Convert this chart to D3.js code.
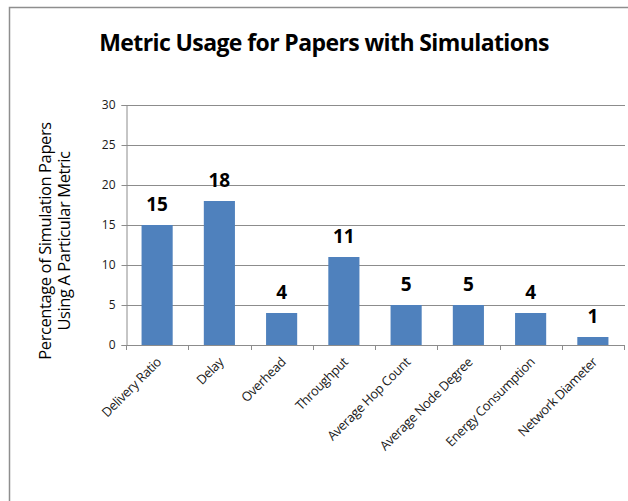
<!DOCTYPE html>
<html>
<head>
<meta charset="utf-8">
<script src="https://cdn.jsdelivr.net/npm/d3@7"></script>
<style>
  html, body { margin: 0; padding: 0; background: #fff; }
  svg { display: block; }
</style>
</head>
<body>
<svg id="chart" width="628" height="501"></svg>
<script>
// Metric usage data (percent of simulation papers)
const categories = ["Delivery Ratio", "Delay", "Overhead", "Throughput",
  "Average Hop Count", "Average Node Degree", "Energy Consumption", "Network Diameter"];
const values = [15, 18, 4, 11, 5, 5, 4, 1];
const yTicks = [0, 5, 10, 15, 20, 25, 30];

const titleText = "Metric Usage for Papers with Simulations";
const yTitleLines = ["Percentage of Simulation Papers", "Using A Particular Metric"];

const svg = d3.select("#chart");
const plot = { left: 126, right: 624, top: 105, bottom: 345 };

// Chart frame
svg.append("rect")
  .attr("x", 9.5).attr("y", 7.5)
  .attr("width", 640).attr("height", 520)
  .attr("fill", "#fff")
  .attr("stroke", "#8e8e8e").attr("stroke-width", 1.5);

const x = d3.scaleBand().domain(categories)
  .range([plot.left, plot.right]).paddingInner(0.5).paddingOuter(0.25);
const y = d3.scaleLinear().domain([0, 30]).range([plot.bottom, plot.top]);

// Horizontal gridlines
svg.append("g").selectAll("line").data(yTicks.filter(d => d > 0)).join("line")
  .attr("x1", plot.left).attr("x2", plot.right + 1)
  .attr("y1", d => Math.round(y(d)) + 0.5).attr("y2", d => Math.round(y(d)) + 0.5)
  .attr("stroke", "#8c8c8c").attr("stroke-width", 1);

// Y axis
const yAxis = svg.append("g")
  .attr("transform", `translate(${plot.left + 0.5},0)`)
  .call(d3.axisLeft(y).tickValues(yTicks).tickSize(5).tickPadding(6));
yAxis.select(".domain").attr("stroke", "#8c8c8c");
yAxis.selectAll(".tick line").attr("stroke", "#8c8c8c");
yAxis.selectAll(".tick text")
  .attr("font-family", "'Open Sans', sans-serif").attr("font-size", 12)
  .attr("fill", "#1a1a1a");

// Bars
svg.append("g").selectAll("rect").data(values).join("rect")
  .attr("x", (d, i) => x(categories[i]))
  .attr("y", d => y(d))
  .attr("width", x.bandwidth())
  .attr("height", d => y(0) - y(d))
  .attr("fill", "#4f81bd");

// X axis: ticks at category boundaries
const boundaries = d3.range(categories.length + 1).map(i => plot.left + i * (plot.right - plot.left) / categories.length);
const xg = svg.append("g");
xg.append("line")
  .attr("x1", plot.left).attr("x2", plot.right + 1)
  .attr("y1", plot.bottom + 0.5).attr("y2", plot.bottom + 0.5)
  .attr("stroke", "#8c8c8c");
xg.selectAll("line.tk").data(boundaries).join("line").attr("class", "tk")
  .attr("x1", d => Math.round(d) + 0.5).attr("x2", d => Math.round(d) + 0.5)
  .attr("y1", plot.bottom).attr("y2", plot.bottom + 5)
  .attr("stroke", "#8c8c8c");

// Rotated category labels
xg.selectAll("text").data(categories).join("text")
  .attr("transform", d => `translate(${x(d) + x.bandwidth() / 2 + 5},${plot.bottom + 18}) rotate(-45)`)
  .attr("text-anchor", "end")
  .attr("font-family", "'Open Sans', sans-serif").attr("font-size", 13)
  .attr("letter-spacing", -0.4)
  .attr("fill", "#1a1a1a")
  .text(d => d);

// Value labels
svg.append("g").selectAll("text").data(values).join("text")
  .attr("x", (d, i) => x(categories[i]) + x.bandwidth() / 2)
  .attr("y", d => y(d) - 14)
  .attr("text-anchor", "middle")
  .attr("font-family", "'Open Sans', sans-serif").attr("font-weight", "bold")
  .attr("font-size", 19).attr("fill", "#000")
  .text(d => d);

// Title
svg.append("text")
  .attr("x", 324).attr("y", 51)
  .attr("text-anchor", "middle")
  .attr("font-family", "'Open Sans', sans-serif").attr("font-weight", "bold")
  .attr("font-size", 23).attr("letter-spacing", -0.6).attr("fill", "#000")
  .text(titleText);

// Y axis title (two lines)
svg.append("g").attr("transform", "translate(0,241) rotate(-90)")
  .selectAll("text").data(yTitleLines).join("text")
  .attr("x", 0).attr("y", (d, i) => 51 + i * 19)
  .attr("text-anchor", "middle")
  .attr("font-family", "'Open Sans', sans-serif")
  .attr("font-size", 16.5).attr("letter-spacing", -0.4).attr("fill", "#000")
  .text(d => d);
</script>
</body>
</html>
